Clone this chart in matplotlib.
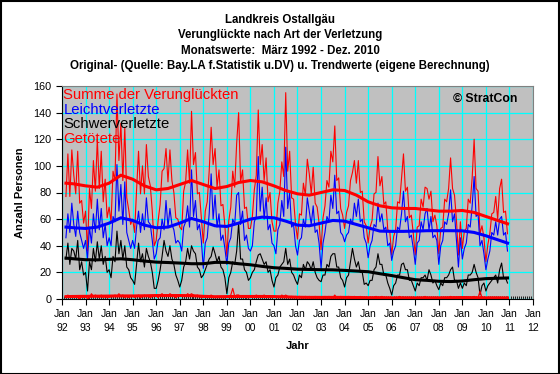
import numpy as np
import matplotlib
matplotlib.use("Agg")
import matplotlib.pyplot as plt

plt.rcParams['font.family'] = ['Liberation Sans', 'DejaVu Sans']

# Monatswerte Maerz 1992 - Dez. 2010
leicht = [
    46, 64, 50, 72, 56, 47, 66, 50, 44, 38,                  # 1992 (ab Maerz)
    44, 30, 54, 42, 64, 50, 75, 52, 68, 46, 56, 40,          # 1993
    46, 40, 62, 58, 101, 66, 86, 56, 88, 50, 44, 38,         # 1994
    44, 38, 54, 66, 50, 64, 52, 76, 58, 56, 44, 30,          # 1995
    34, 44, 46, 60, 52, 74, 54, 68, 56, 52, 42, 44,          # 1996
    42, 36, 54, 58, 70, 54, 97, 62, 74, 52, 56, 44,          # 1997
    23, 42, 46, 64, 94, 60, 78, 54, 64, 44, 48, 38,          # 1998
    26, 42, 46, 60, 56, 78, 80, 56, 66, 44, 48, 38,          # 1999
    36, 40, 58, 62, 107, 66, 84, 60, 76, 52, 56, 42,         # 2000
    40, 34, 52, 56, 74, 62, 114, 68, 80, 54, 56, 40,         # 2001
    33, 44, 46, 60, 54, 76, 66, 56, 70, 50, 52, 42,          # 2002
    23, 42, 50, 62, 58, 78, 68, 93, 64, 66, 50, 48,          # 2003
    43, 48, 50, 60, 56, 72, 62, 75, 58, 60, 46, 42,          # 2004
    31, 40, 44, 56, 54, 72, 58, 64, 52, 54, 40, 42,          # 2005
    29, 36, 40, 54, 52, 64, 81, 58, 62, 46, 48, 38,          # 2006
    26, 42, 44, 58, 52, 64, 68, 52, 62, 46, 48, 44,          # 2007
    26, 40, 44, 58, 56, 64, 82, 58, 64, 44, 24, 46,          # 2008
    30, 38, 42, 56, 54, 70, 92, 62, 64, 40, 44, 34,          # 2009
    22, 30, 36, 50, 48, 58, 48, 60, 62, 48, 50, 36,          # 2010
]
schwer = [
    30, 42, 26, 38, 36, 30, 44, 22, 28, 18,
    20, 6, 28, 22, 38, 28, 43, 30, 40, 26, 32, 20,
    22, 16, 32, 28, 51, 34, 44, 30, 40, 24, 22, 16,
    14, 11, 26, 42, 28, 34, 24, 38, 32, 28, 20, 8,
    8, 14, 22, 32, 44, 36, 32, 40, 30, 26, 18, 14,
    9, 14, 24, 28, 38, 30, 40, 36, 34, 24, 22, 16,
    18, 22, 26, 30, 32, 39, 34, 28, 32, 24, 22, 16,
    4, 16, 20, 28, 26, 36, 57, 30, 30, 22, 20, 14,
    16, 20, 22, 28, 33, 34, 30, 26, 28, 20, 22, 14,
    9, 16, 18, 24, 26, 28, 38, 26, 30, 20, 18, 14,
    11, 18, 16, 26, 22, 28, 26, 22, 28, 20, 16, 14,
    13, 18, 18, 26, 24, 32, 34, 34, 24, 24, 16, 14,
    9, 16, 18, 28, 38, 30, 24, 28, 20, 20, 11, 12,
    10, 14, 14, 22, 24, 34, 26, 26, 18, 18, 12, 8,
    3, 10, 12, 18, 18, 26, 27, 22, 22, 14, 14, 10,
    6, 12, 10, 16, 16, 18, 14, 22, 18, 12, 14, 10,
    7, 12, 10, 16, 16, 18, 22, 24, 14, 14, 8, 12,
    8, 12, 10, 18, 18, 20, 26, 20, 16, 3, 10, 12,
    6, 10, 12, 14, 16, 18, 12, 22, 27, 16, 16, 12,
]
getoetet = [
    1, 3, 1, 2, 1, 2, 1, 0, 2, 1,
    2, 0, 1, 4, 2, 3, 2, 1, 3, 1, 2, 1,
    1, 2, 2, 3, 2, 4, 2, 3, 1, 2, 1, 2,
    2, 1, 2, 3, 1, 2, 3, 2, 2, 1, 2, 2,
    2, 1, 3, 4, 2, 3, 2, 4, 3, 2, 1, 2,
    3, 2, 3, 2, 4, 3, 4, 3, 2, 3, 2, 1,
    1, 2, 1, 2, 3, 2, 1, 2, 1, 2, 1, 1,
    2, 1, 3, 8, 2, 3, 3, 2, 1, 2, 1, 1,
    1, 2, 2, 3, 2, 1, 2, 3, 2, 1, 2, 2,
    2, 1, 2, 1, 3, 2, 3, 2, 1, 2, 1, 2,
    1, 2, 1, 1, 2, 1, 2, 1, 1, 2, 1, 1,
    1, 1, 2, 1, 2, 1, 1, 3, 1, 1, 2, 1,
    1, 1, 2, 1, 1, 2, 1, 1, 2, 1, 1, 1,
    1, 0, 1, 1, 2, 1, 1, 2, 1, 1, 0, 1,
    1, 1, 0, 1, 2, 1, 1, 1, 0, 1, 1, 1,
    1, 0, 1, 1, 1, 2, 1, 1, 1, 0, 1, 1,
    1, 1, 0, 1, 1, 1, 2, 1, 0, 1, 1, 0,
    0, 1, 1, 1, 0, 1, 2, 1, 1, 6, 1, 0,
    0, 1, 1, 0, 1, 1, 0, 1, 1, 1, 0, 1,
]

# Trendwerte (Halbjahresstuetzstellen)
trend_jahr = [1992.17] + [1992.5 + 0.5 * i for i in range(37)] + [2010.92]
trend_summe = [87, 86.5, 85, 84, 87, 93, 90, 85, 82, 83, 86, 89, 86, 83, 84.5,
               87.5, 89, 88, 85, 81.5, 79, 78, 80, 82, 81.5, 78, 73, 70, 68.5,
               68, 68, 67, 66, 66, 66.5, 65, 62, 59, 56.5]
trend_leicht = [54, 53.5, 53, 54, 57, 61, 59, 55.5, 53.5, 54, 57, 60.5, 58, 55,
                54.5, 57, 60, 61.5, 61, 58.5, 55.5, 55, 57, 59, 58.5, 56, 53.5,
                51, 50.8, 50.8, 51, 51.3, 51.3, 51.3, 51.2, 50, 47.5, 44.5, 42]
trend_schwer = [30.7, 30.2, 29.5, 29.4, 29.8, 30.2, 29.5, 28.5, 27.7, 27.4, 27,
                26.5, 26.5, 27.5, 27.5, 26.5, 25.7, 24.5, 23.5, 23, 22.4, 22.2,
                22, 21.9, 21.5, 21, 20.5, 19, 17.6, 16, 14.5, 14, 13.3, 13.1,
                13.5, 14.5, 15.3, 15.6, 15.8]
trend_getoetet = [1.8, 1.9, 2.0, 2.1, 2.2, 2.3, 2.3, 2.4, 2.6, 2.6, 2.6, 2.5,
                  2.0, 1.7, 1.8, 1.9, 1.9, 1.9, 1.8, 1.6, 1.3, 1.2, 1.2, 1.2,
                  1.2, 1.1, 1.0, 1.0, 0.9, 0.9, 0.9, 0.9, 0.9, 1.0, 1.1, 1.0,
                  0.9, 0.9, 0.8]

leicht = np.array(leicht)
schwer = np.array(schwer)
getoetet = np.array(getoetet)
summe = leicht + schwer + getoetet
monat = 1992 + (2 + np.arange(len(leicht))) / 12.0

fig = plt.figure(figsize=(5.6, 3.74), dpi=100)
ax = fig.add_axes([62 / 560, 1 - 299 / 374, (533 - 62) / 560, (299 - 86) / 374])
ax.set_facecolor('#C0C0C0')

ax.plot(monat, summe, color='red', lw=0.8)
ax.plot(monat, leicht, color='blue', lw=0.8)
ax.plot(monat, schwer, color='black', lw=0.8)
ax.plot(monat, getoetet, color='red', lw=0.8)
ax.plot(trend_jahr, trend_summe, color='red', lw=2.2)
ax.plot(trend_jahr, trend_leicht, color='blue', lw=2.2)
ax.plot(trend_jahr, trend_schwer, color='black', lw=2.2)
ax.plot(trend_jahr, trend_getoetet, color='red', lw=2.2)

ax.set_xlim(1992, 2012)
ax.set_ylim(0, 160)
jahre = np.arange(1992, 2013)
ax.set_xticks(jahre)
ax.set_xticklabels(['Jan\n%02d' % (j % 100) for j in jahre], fontsize=7.5, linespacing=1.5)
ax.set_xticks(np.arange(1992, 2012, 1 / 12.0), minor=True)
ax.set_yticks(np.arange(0, 161, 20))
ax.tick_params(axis='y', labelsize=7.8, length=4, direction='out')
ax.tick_params(axis='x', which='major', length=4, direction='out', pad=3)
ax.tick_params(axis='x', which='minor', length=2, direction='in')
ax.grid(True, color='#00FFFF', lw=0.9)
ax.set_axisbelow(True)
for s in ['top', 'right']:
    ax.spines[s].set_color('#808080')
ax.set_xlabel('Jahr', fontsize=8, fontweight='bold', labelpad=6)
ax.set_ylabel('Anzahl Personen', fontsize=8, fontweight='bold', labelpad=6)

legende = [('Summe der Verunglückten', 'red'), ('Leichtverletzte', 'blue'),
           ('Schwerverletzte', 'black'), ('Getötete', 'red')]
for i, (txt, col) in enumerate(legende):
    ax.text(0.003, 0.99 - i * 0.068, txt, color=col, fontsize=10.7,
            transform=ax.transAxes, va='top', ha='left')
ax.text(0.83, 0.94, '© StratCon', fontsize=8.8, fontweight='bold',
        transform=ax.transAxes, va='center', ha='left')

titel = ['Landkreis Ostallgäu', 'Verunglückte nach Art der Verletzung',
         'Monatswerte:  März 1992 - Dez. 2010',
         'Original- (Quelle: Bay.LA f.Statistik u.DV) u. Trendwerte (eigene Berechnung)']
for i, t in enumerate(titel):
    fig.text(0.5, 1 - (20 + i * 15.3) / 374, t, fontsize=8.3, fontweight='bold',
             ha='center', va='center')

fig.patches.append(plt.Rectangle((0.001, 0.001), 0.997, 0.997, transform=fig.transFigure,
                                 fill=False, edgecolor='black', lw=1.5))
fig.savefig('out.png', dpi=100)
